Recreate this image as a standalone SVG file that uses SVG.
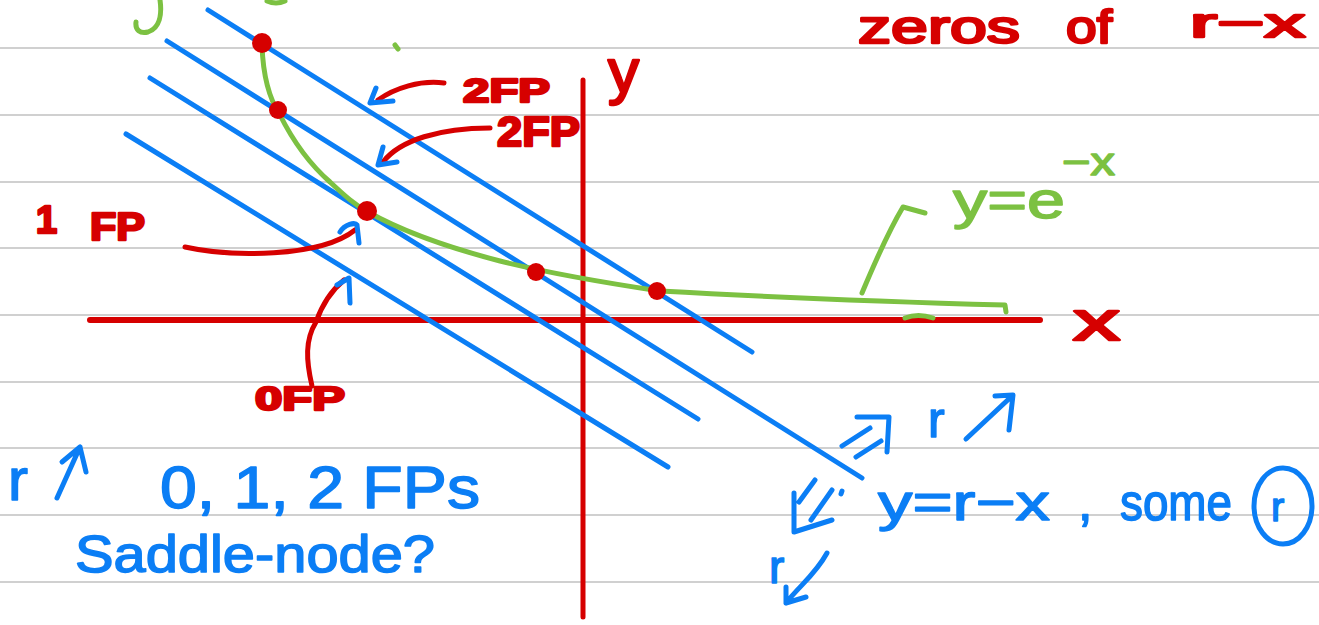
<svg xmlns="http://www.w3.org/2000/svg" width="1319" height="625" viewBox="0 0 1319 625">
<style>
.rule{stroke:#d0d0d0;stroke-width:2}
.r{stroke:#d60000;fill:none;stroke-width:5;stroke-linecap:round;stroke-linejoin:round}
.b{stroke:#0b7ef5;fill:none;stroke-width:5;stroke-linecap:round;stroke-linejoin:round}
.g{stroke:#7cc142;fill:none;stroke-width:5;stroke-linecap:round;stroke-linejoin:round}
.dot{fill:#d60000}
text{font-family:"Liberation Sans","DejaVu Sans",sans-serif;stroke-linejoin:round}
.tr{fill:#d60000;stroke:#d60000;stroke-width:2.5;font-weight:bold}
.tb{fill:#0b7ef5;stroke:#0b7ef5;stroke-width:1.5}
.tg{fill:#7cc142;stroke:#7cc142;stroke-width:1.5}
</style>
<rect width="1319" height="625" fill="#ffffff"/>
<g id="ruled-lines">
<line class="rule" x1="0" y1="48" x2="1319" y2="48"/>
<line class="rule" x1="0" y1="115" x2="1319" y2="115"/>
<line class="rule" x1="0" y1="182" x2="1319" y2="182"/>
<line class="rule" x1="0" y1="248" x2="1319" y2="248"/>
<line class="rule" x1="0" y1="315" x2="1319" y2="315"/>
<line class="rule" x1="0" y1="382" x2="1319" y2="382"/>
<line class="rule" x1="0" y1="448" x2="1319" y2="448"/>
<line class="rule" x1="0" y1="515" x2="1319" y2="515"/>
<line class="rule" x1="0" y1="582" x2="1319" y2="582"/>
</g>
<g id="axes">
<line class="r" x1="90" y1="320" x2="1040" y2="320" style="stroke-width:6"/>
<line class="r" x1="583" y1="80" x2="583" y2="617"/>
<text class="tr" x="608" y="92" font-size="62" style="font-weight:normal">y</text>
<text class="tr" x="1073" y="340" font-size="55" textLength="47" lengthAdjust="spacingAndGlyphs" style="font-weight:normal">x</text>
</g>
<g id="lines-r-minus-x">
<line class="b" x1="208" y1="10" x2="752" y2="352"/>
<line class="b" x1="167" y1="41" x2="862" y2="478"/>
<line class="b" x1="150" y1="78" x2="698" y2="419"/>
<line class="b" x1="126" y1="134" x2="668" y2="467"/>
</g>
<g id="curve-exp">
<path class="g" d="M262,45 C263,75 270,100 280,115 C290,135 305,160 330,182 C345,196 355,205 368,212 C400,230 450,248 500,261 C540,271 600,282 660,291 C750,296 900,302 1005,305 L1006,312"/>
<path class="g" d="M395,45 L398,49"/>
<path class="g" d="M905,318 Q918,313 933,318"/>
<path class="g" d="M160,0 C162,14 160,28 148,32 C140,34 135,30 136,22"/>
<path class="g" d="M267,1 Q276,5 285,1"/>
<path class="g" d="M862,293 C875,262 888,232 903,207 L925,213"/>
<text class="tg" x="953" y="218" font-size="52" textLength="112" lengthAdjust="spacingAndGlyphs">y=e</text>
<text class="tg" x="1062" y="175" font-size="38" textLength="53" lengthAdjust="spacingAndGlyphs">−x</text>
</g>
<g id="fixed-points">
<circle class="dot" cx="262" cy="43" r="10"/>
<circle class="dot" cx="278" cy="110" r="9"/>
<circle class="dot" cx="367" cy="211" r="10"/>
<circle class="dot" cx="536" cy="272" r="9"/>
<circle class="dot" cx="657" cy="291" r="9"/>
</g>
<g id="title">
<text class="tr" x="858" y="43" font-size="47" textLength="162" lengthAdjust="spacingAndGlyphs" style="font-weight:normal">zeros</text>
<text class="tr" x="1066" y="43" font-size="47" textLength="46" lengthAdjust="spacingAndGlyphs" style="font-weight:normal">of</text>
<text class="tr" x="1190" y="37" font-size="41" textLength="115" lengthAdjust="spacingAndGlyphs" style="font-weight:normal">r−x</text>
</g>
<g id="label-2fp-a">
<path class="r" d="M444,83 C420,80 395,88 378,100"/>
<path class="b" d="M376,88 L370,103 L393,101"/>
<text class="tr" x="463" y="102" font-size="34" textLength="87" lengthAdjust="spacingAndGlyphs">2FP</text>
</g>
<g id="label-2fp-b">
<path class="r" d="M490,128 C440,128 400,140 383,162"/>
<path class="b" d="M383,147 L378,165 L397,162"/>
<text class="tr" x="497" y="146" font-size="42" textLength="83" lengthAdjust="spacingAndGlyphs">2FP</text>
</g>
<g id="label-1fp">
<path class="r" d="M185,247 C230,257 320,258 355,230"/>
<path class="b" d="M340,232 C345,224 355,222 357,225 L359,243"/>
<text class="tr" x="36" y="233" font-size="38">1</text>
<text class="tr" x="90" y="240" font-size="38" textLength="55" lengthAdjust="spacingAndGlyphs">FP</text>
</g>
<g id="label-0fp">
<path class="r" d="M312,386 C306,360 305,340 316,322 C322,305 332,290 344,280"/>
<path class="b" d="M337,285 L349,278 L350,303"/>
<text class="tr" x="255" y="410" font-size="34" textLength="90" lengthAdjust="spacingAndGlyphs">0FP</text>
</g>
<g id="note-left">
<text class="tb" x="8" y="500" font-size="60">r</text>
<path class="b" d="M57,498 L80,447 M62,462 L80,447 L86,472"/>
<text class="tb" x="160" y="508" font-size="60" textLength="320" lengthAdjust="spacingAndGlyphs">0, 1, 2  FPs</text>
<text class="tb" x="75" y="572" font-size="52" textLength="360" lengthAdjust="spacingAndGlyphs">Saddle-node?</text>
</g>
<g id="note-right">
<path class="b" d="M842,446 L870,428 M856,457 L881,441 M857,417 L889,417 L887,452"/>
<text class="tb" x="928" y="437" font-size="50">r</text>
<path class="b" d="M966,439 L1012,396 M995,396 L1013,395 L1009,430"/>
<path class="b" d="M815,480 L799,502 M832,490 L811,520 M794,493 L794,532 L832,520 M842,491 L841,494"/>
<text class="tb" x="878" y="520" font-size="52" textLength="172" lengthAdjust="spacingAndGlyphs">y=r−x</text>
<text class="tb" x="1078" y="520" font-size="52">,</text>
<text class="tb" x="1120" y="520" font-size="52" textLength="112" lengthAdjust="spacingAndGlyphs">some</text>
<ellipse class="b" cx="1283" cy="506" rx="29" ry="38"/>
<text class="tb" x="1271" y="521" font-size="40">r</text>
<text class="tb" x="769" y="583" font-size="46">r</text>
<path class="b" d="M827,553 C815,575 800,585 786,603 M786,587 L786,603 L806,597"/>
</g>
</svg>
